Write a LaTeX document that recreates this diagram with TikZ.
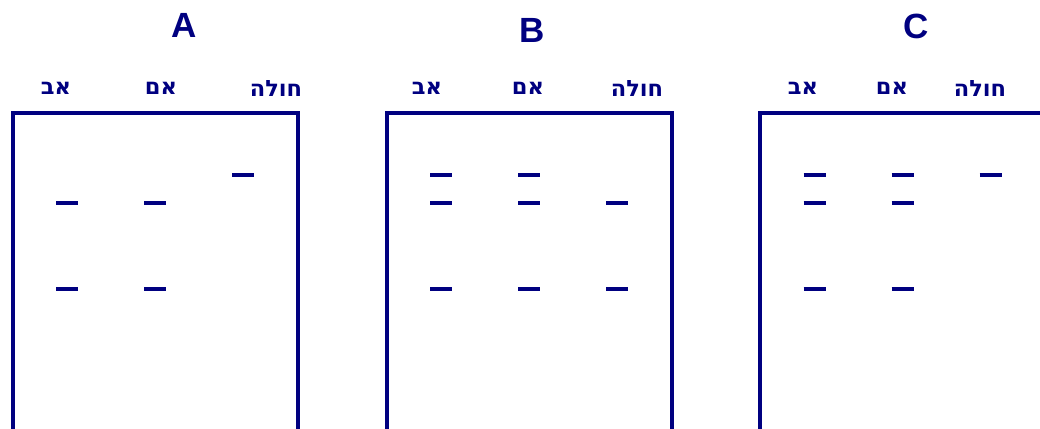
\documentclass[tikz,border=0pt]{standalone}
\usepackage{fontspec}
\setmainfont{Liberation Sans}
\newfontfamily\heb[Script=Hebrew]{DejaVu Sans}
\TeXXeTstate=1
\definecolor{navy}{RGB}{0,0,128}
\begin{document}
\begin{tikzpicture}[x=1pt,y=-1pt,
  gel/.style={draw=navy,line width=4pt},
  band/.style={draw=navy,line width=4pt},
  title/.style={text=navy,font=\fontsize{35}{40}\selectfont\bfseries,inner sep=0pt},
  lane/.style={text=navy,font=\heb\bfseries\fontsize{22.5}{26}\selectfont,inner sep=0pt}]
\useasboundingbox (0,0) rectangle (1040,428);
% titles
\node[title] (tA) at (184,25) {A};
\node[title] (tB) at (532,30) {B};
\node[title] (tC) at (916,26) {C};
% lane labels
\node[lane] (fA) at (56,88) {\beginR אב\endR};
\node[lane] (mA) at (161,88) {\beginR אם\endR};
\node[lane] (pA) at (276,88) {\beginR חולה\endR};
\node[lane] (fB) at (427,88) {\beginR אב\endR};
\node[lane] (mB) at (528,88) {\beginR אם\endR};
\node[lane] (pB) at (637,88) {\beginR חולה\endR};
\node[lane] (fC) at (803,88) {\beginR אב\endR};
\node[lane] (mC) at (892,88) {\beginR אם\endR};
\node[lane] (pC) at (980,88) {\beginR חולה\endR};
% gels
\draw[gel] (12.5,440) -- (12.5,113) -- (297.5,113) -- (297.5,440);
\draw[gel] (386.5,440) -- (386.5,113) -- (672,113) -- (672,440);
\draw[gel] (760,440) -- (760,113) -- (1050,113);
% bands A
\foreach \x/\y in {67/203,67/289,155/203,155/289,243/175}
  \draw[band] (\x-11,\y) -- (\x+11,\y);
% bands B
\foreach \x/\y in {441/175,441/203,441/289,529/175,529/203,529/289,617/203,617/289}
  \draw[band] (\x-11,\y) -- (\x+11,\y);
% bands C
\foreach \x/\y in {814.5/175,814.5/203,814.5/289,902.5/175,902.5/203,902.5/289,990.5/175}
  \draw[band] (\x-11,\y) -- (\x+11,\y);
\end{tikzpicture}
\end{document}
